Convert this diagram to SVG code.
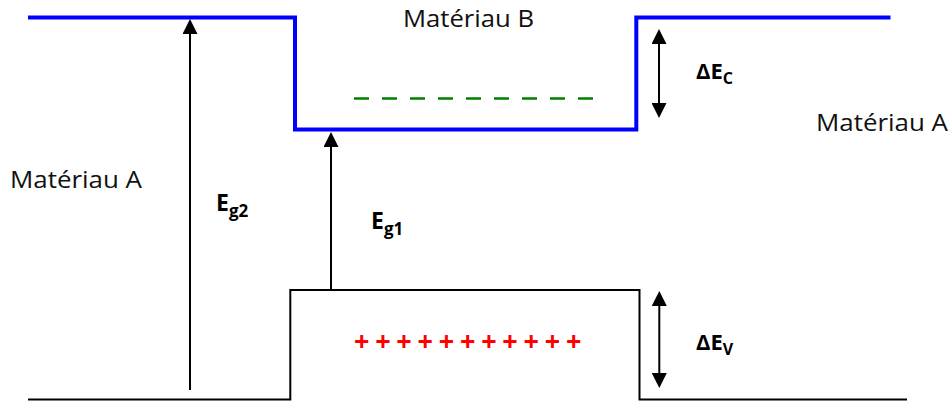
<svg xmlns="http://www.w3.org/2000/svg" width="952" height="401" viewBox="0 0 952 401">
<style>
.lbl{font-family:"Open Sans","Liberation Sans",sans-serif;font-size:24px;fill:#111}
.sym{font-family:"Open Sans","Liberation Sans",sans-serif;font-size:23px;font-weight:bold;fill:#000}
.sym2{font-family:"Open Sans","Liberation Sans",sans-serif;font-size:22px;font-weight:bold;fill:#000}
.sub{font-size:17px}
.sub2{font-size:16px}
.plus{font-family:"Open Sans","Liberation Sans",sans-serif;font-size:27px;font-weight:bold;fill:#ff0000}
.arr{stroke:#000;stroke-width:2;fill:none}
</style>
<defs>
<marker id="ah" viewBox="0 0 15 15" refX="12" refY="7.5" markerWidth="15" markerHeight="15" markerUnits="userSpaceOnUse" orient="auto-start-reverse">
<path d="M0,0 L15,7.5 L0,15 z" fill="#000"/>
</marker>
</defs>
<rect width="952" height="401" fill="#fff"/>
<g id="conduction-band">
<polyline points="28,17.5 295,17.5 295,129.5 636.3,129.5 636.3,17.5 890.5,17.5" fill="none" stroke="#0000ff" stroke-width="4"/>
</g>
<g id="valence-band">
<polyline points="28,399.5 290.3,399.5 290.3,290 639.5,290 639.5,399.5 907,399.5" fill="none" stroke="#000" stroke-width="2"/>
</g>
<g id="electron-level">
<line x1="354" y1="98.5" x2="593" y2="98.5" stroke="#008000" stroke-width="2.5" stroke-dasharray="15 13"/>
</g>
<g id="holes">
<text class="plus" text-anchor="middle" x="361.7 382.9 404.1 425.3 446.5 467.7 488.9 510.1 531.3 552.5 573.7" y="351">+++++++++++</text>
</g>
<g id="connectors">
<line class="arr" x1="190" y1="390" x2="190" y2="22" marker-end="url(#ah)"/>
<line class="arr" x1="331" y1="289" x2="331" y2="135" marker-end="url(#ah)"/>
<line class="arr" x1="659" y1="32" x2="659" y2="115" marker-start="url(#ah)" marker-end="url(#ah)"/>
<line class="arr" x1="659.3" y1="294" x2="659.3" y2="385" marker-start="url(#ah)" marker-end="url(#ah)"/>
</g>
<g id="label-mat-b"><text class="lbl" x="403" y="27" textLength="131" lengthAdjust="spacingAndGlyphs">Matériau B</text></g>
<g id="label-mat-a-left"><text class="lbl" x="10" y="188" textLength="132" lengthAdjust="spacingAndGlyphs">Matériau A</text></g>
<g id="label-mat-a-right"><text class="lbl" x="816" y="131" textLength="132" lengthAdjust="spacingAndGlyphs">Matériau A</text></g>
<g id="label-eg2"><text class="sym" x="216" y="211">E<tspan class="sub" dy="6">g2</tspan></text></g>
<g id="label-eg1"><text class="sym" x="371" y="229">E<tspan class="sub" dy="6">g1</tspan></text></g>
<g id="label-dec"><text class="sym2" x="696" y="79">ΔE<tspan class="sub2" dy="5">C</tspan></text></g>
<g id="label-dev"><text class="sym2" x="696" y="350">ΔE<tspan class="sub2" dy="5">V</tspan></text></g>
</svg>
